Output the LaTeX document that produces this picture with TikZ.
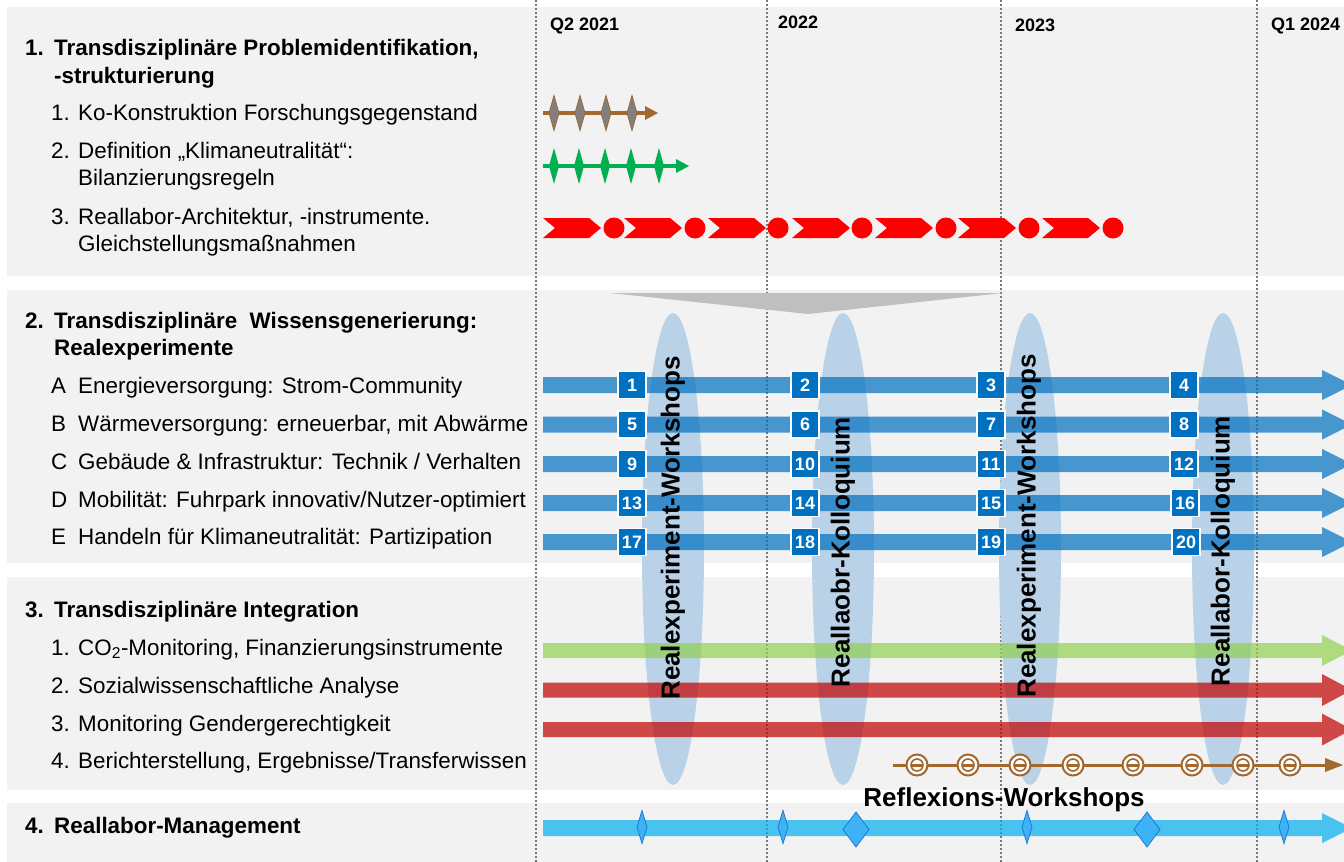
\documentclass[tikz,border=0pt]{standalone}
\usepackage{fontspec}
\setmainfont{Liberation Sans}
\usepackage{graphicx}
\definecolor{bandgray}{RGB}{242,242,242}
\definecolor{dotgray}{RGB}{120,120,120}
\definecolor{midblue}{RGB}{0,112,192}
\definecolor{ellblue}{RGB}{186,210,231}
\definecolor{darkred}{RGB}{192,0,0}
\definecolor{lgreen}{RGB}{146,208,80}
\definecolor{cyanb}{RGB}{0,176,240}
\definecolor{brownc}{RGB}{163,104,46}
\definecolor{greenc}{RGB}{0,176,80}
\definecolor{trigray}{RGB}{191,191,191}
\definecolor{diamgray}{RGB}{128,128,128}
\definecolor{diamblue}{RGB}{62,178,247}
\definecolor{diamedge}{RGB}{30,120,210}
\definecolor{chevred}{RGB}{255,0,0}
\begin{document}
\begin{tikzpicture}[x=1pt,y=-1pt,
  band/.style={fill=bandgray},
  gridline/.style={dotgray, line width=2pt, dash pattern=on 2pt off 2pt},
  lbl/.style={anchor=base west, inner sep=0pt, font=\fontsize{22.4}{26}\selectfont},
  ttl/.style={anchor=base west, inner sep=0pt, font=\bfseries\fontsize{22.4}{26}\selectfont},
  yearlbl/.style={anchor=base west, inner sep=0pt, font=\bfseries\fontsize{18}{20}\selectfont},
  vlbl/.style={rotate=90, inner sep=0pt, font=\bfseries\fontsize{26}{26}\selectfont},
  numbox/.style={fill=midblue, draw=white, line width=1.5pt, minimum width=28pt, minimum height=27pt, inner sep=0pt, text=white, font=\bfseries\fontsize{18}{18}\selectfont},
  ellshape/.style={fill=ellblue},
  fatarrow/.style={fill opacity=0.7}
]
\useasboundingbox (0,0) rectangle (1344,862);
\clip (0,0) rectangle (1344,862);
\fill[white] (0,0) rectangle (1344,862);
% bands
\fill[band] (7,7) rectangle (1344,276);
\fill[band] (7,290) rectangle (1344,563);
\fill[band] (7,577) rectangle (1344,790);
\fill[band] (7,803) rectangle (1344,862);
% grid lines
\foreach \gx in {536,767,1001,1257} {
  \draw[gridline] (\gx,0) -- (\gx,862);
}
% year labels
\node[yearlbl] (y1) at (550,30.5) {Q2 2021};
\node[yearlbl] (y2) at (778,28.5) {2022};
\node[yearlbl] (y3) at (1015,31.5) {2023};
\node[yearlbl] (y4) at (1271,30.5) {Q1 2024};
% gray funnel
\fill[trigray] (610,293) -- (1003,293) -- (808,314) -- cycle;
% ellipses
\foreach \ex in {673,843,1030,1223} {
  \fill[ellshape] (\ex,549) ellipse[x radius=31pt, y radius=236pt];
}
% band 1 elements
\draw[brownc, line width=4pt] (543,113) -- (647,113);
\fill[brownc] (645,106) -- (658,113) -- (645,120) -- cycle;
\foreach \dx in {554,580,606,632} {
  \filldraw[fill=diamgray, draw=brownc, line width=0.8pt] (\dx,95.5) -- (\dx+5,113) -- (\dx,130.5) -- (\dx-5,113) -- cycle;
}
\draw[greenc, line width=4pt] (543,166) -- (678,166);
\fill[greenc] (676,159) -- (689,166) -- (676,173) -- cycle;
\foreach \dx in {554,579,605,631,659} {
  \fill[greenc] (\dx,148) -- (\dx+5,166) -- (\dx,184) -- (\dx-5,166) -- cycle;
}
\foreach \cx in {543,624,708,792,875,958,1042} {
  \fill[chevred] (\cx,218) -- (\cx+46,218) -- (\cx+58,228) -- (\cx+46,238) -- (\cx,238) -- (\cx+12,228) -- cycle;
}
\foreach \cx in {614,695,778,862,946,1029,1113} {
  \fill[chevred] (\cx,228) circle[radius=10.5pt];
}
% band 2 arrows
\foreach \ry in {385,424.5,464,503,542} {
  \fill[midblue, fatarrow] (543,\ry-8) -- (1322,\ry-8) -- (1322,\ry-15) -- (1352,\ry) -- (1322,\ry+15) -- (1322,\ry+8) -- (543,\ry+8) -- cycle;
}
% number boxes
\node[numbox] (n1) at (632,385) {1};
\node[numbox] (n2) at (805,385) {2};
\node[numbox] (n3) at (991,385) {3};
\node[numbox] (n4) at (1184,385) {4};
\node[numbox] (n5) at (632,424.5) {5};
\node[numbox] (n6) at (805,424.5) {6};
\node[numbox] (n7) at (991,424.5) {7};
\node[numbox] (n8) at (1184,424.5) {8};
\node[numbox] (n9) at (632,464) {9};
\node[numbox] (n10) at (805,464) {10};
\node[numbox] (n11) at (991,464) {11};
\node[numbox] (n12) at (1184,464) {12};
\node[numbox] (n13) at (632,503) {13};
\node[numbox] (n14) at (805,503) {14};
\node[numbox] (n15) at (991,503) {15};
\node[numbox] (n16) at (1185,503) {16};
\node[numbox] (n17) at (632,542) {17};
\node[numbox] (n18) at (805,542) {18};
\node[numbox] (n19) at (991,542) {19};
\node[numbox] (n20) at (1186,542) {20};
% band 3 arrows
\fill[lgreen, fatarrow] (543,643) -- (1322,643) -- (1322,635) -- (1352,650.5) -- (1322,666) -- (1322,658) -- (543,658) -- cycle;
\fill[darkred, fatarrow] (543,682.5) -- (1322,682.5) -- (1322,674) -- (1352,690) -- (1322,706) -- (1322,697.5) -- (543,697.5) -- cycle;
\fill[darkred, fatarrow] (543,722) -- (1322,722) -- (1322,713.5) -- (1352,729.5) -- (1322,745.5) -- (1322,737) -- (543,737) -- cycle;
% brown reflection line
\draw[brownc, line width=3pt] (893,765) -- (1328,765);
\fill[brownc] (1325,758) -- (1343,765) -- (1325,772) -- cycle;
\foreach \bx in {917,968,1020,1073,1133,1192,1243,1290} {
  \filldraw[fill=white, draw=brownc, line width=2pt] (\bx,765) circle[radius=10.5pt];
  \filldraw[fill=white, draw=brownc, line width=1.6pt] (\bx,765) circle[radius=6pt];
  \draw[brownc, line width=3pt] (\bx-5,765) -- (\bx+5,765);
}
% vertical labels
\node[vlbl] (v1) at (673,528) {Realexperiment-Workshops};
\node[vlbl] (v2) at (843,552) {Reallaobr-Kolloquium};
\node[vlbl] (v3) at (1029,526) {Realexperiment-Workshops};
\node[vlbl] (v4) at (1223,551) {Reallabor-Kolloquium};
\node[anchor=base, inner sep=0pt, font=\bfseries\fontsize{26}{26}\selectfont] (refl) at (1004,806) {Reflexions-Workshops};
% band 4
\fill[cyanb, fatarrow] (543,820) -- (1322,820) -- (1322,813) -- (1352,828) -- (1322,843) -- (1322,836) -- (543,836) -- cycle;
\foreach \sx in {642,783,1027,1284} {
  \filldraw[fill=diamblue, draw=diamedge, line width=0.8pt] (\sx,810.5) -- (\sx+5,827) -- (\sx,843.5) -- (\sx-5,827) -- cycle;
}
\foreach \sx in {856,1147} {
  \filldraw[fill=diamblue, draw=diamedge, line width=0.8pt] (\sx,812) -- (\sx+13,829.5) -- (\sx,847) -- (\sx-13,829.5) -- cycle;
}
% texts band 1
\node[ttl] (t1n) at (25,55) {1.};
\node[ttl] (t1a) at (54,55) {Transdisziplinäre Problemidentifikation,};
\node[ttl] (t1b) at (54,83) {-strukturierung};
\node[lbl] (i11n) at (51,120) {1.};
\node[lbl] (i11) at (78,120) {Ko-Konstruktion Forschungsgegenstand};
\node[lbl] (i12n) at (51,158) {2.};
\node[lbl] (i12) at (78,158) {Definition „Klimaneutralität“:};
\node[lbl] (i12b) at (78,185) {Bilanzierungsregeln};
\node[lbl] (i13n) at (51,224) {3.};
\node[lbl] (i13) at (78,224) {Reallabor-Architektur, -instrumente.};
\node[lbl] (i13b) at (78,251) {Gleichstellungsmaßnahmen};
% texts band 2
\node[ttl] (t2n) at (25,328) {2.};
\node[ttl] (t2a) at (54,328) {Transdisziplinäre\ \ Wissensgenerierung:};
\node[ttl] (t2b) at (54,355) {Realexperimente};
\node[lbl] (ia) at (51,393) {A};
\node[lbl] (iat) at (78,393) {Energieversorgung: Strom-Community};
\node[lbl] (ib) at (51,431) {B};
\node[lbl] (ibt) at (78,431) {Wärmeversorgung: erneuerbar, mit Abwärme};
\node[lbl] (ic) at (51,469) {C};
\node[lbl] (ict) at (78,469) {Gebäude \& Infrastruktur: Technik / Verhalten};
\node[lbl] (id) at (51,507) {D};
\node[lbl] (idt) at (78,507) {Mobilität: Fuhrpark innovativ/Nutzer-optimiert};
\node[lbl] (ie) at (51,544) {E};
\node[lbl] (iet) at (78,544) {Handeln für Klimaneutralität: Partizipation};
% texts band 3
\node[ttl] (t3n) at (25,617) {3.};
\node[ttl] (t3a) at (54,617) {Transdisziplinäre Integration};
\node[lbl] (i31n) at (51,655) {1.};
\node[lbl] (i31) at (78,655) {CO\textsubscript{2}-Monitoring, Finanzierungsinstrumente};
\node[lbl] (i32n) at (51,693) {2.};
\node[lbl] (i32) at (78,693) {Sozialwissenschaftliche Analyse};
\node[lbl] (i33n) at (51,731) {3.};
\node[lbl] (i33) at (78,731) {Monitoring Gendergerechtigkeit};
\node[lbl] (i34n) at (51,768) {4.};
\node[lbl] (i34) at (78,768) {Berichterstellung, Ergebnisse/Transferwissen};
% texts band 4
\node[ttl] (t4n) at (25,833) {4.};
\node[ttl] (t4a) at (54,833) {Reallabor-Management};
\end{tikzpicture}
\end{document}
